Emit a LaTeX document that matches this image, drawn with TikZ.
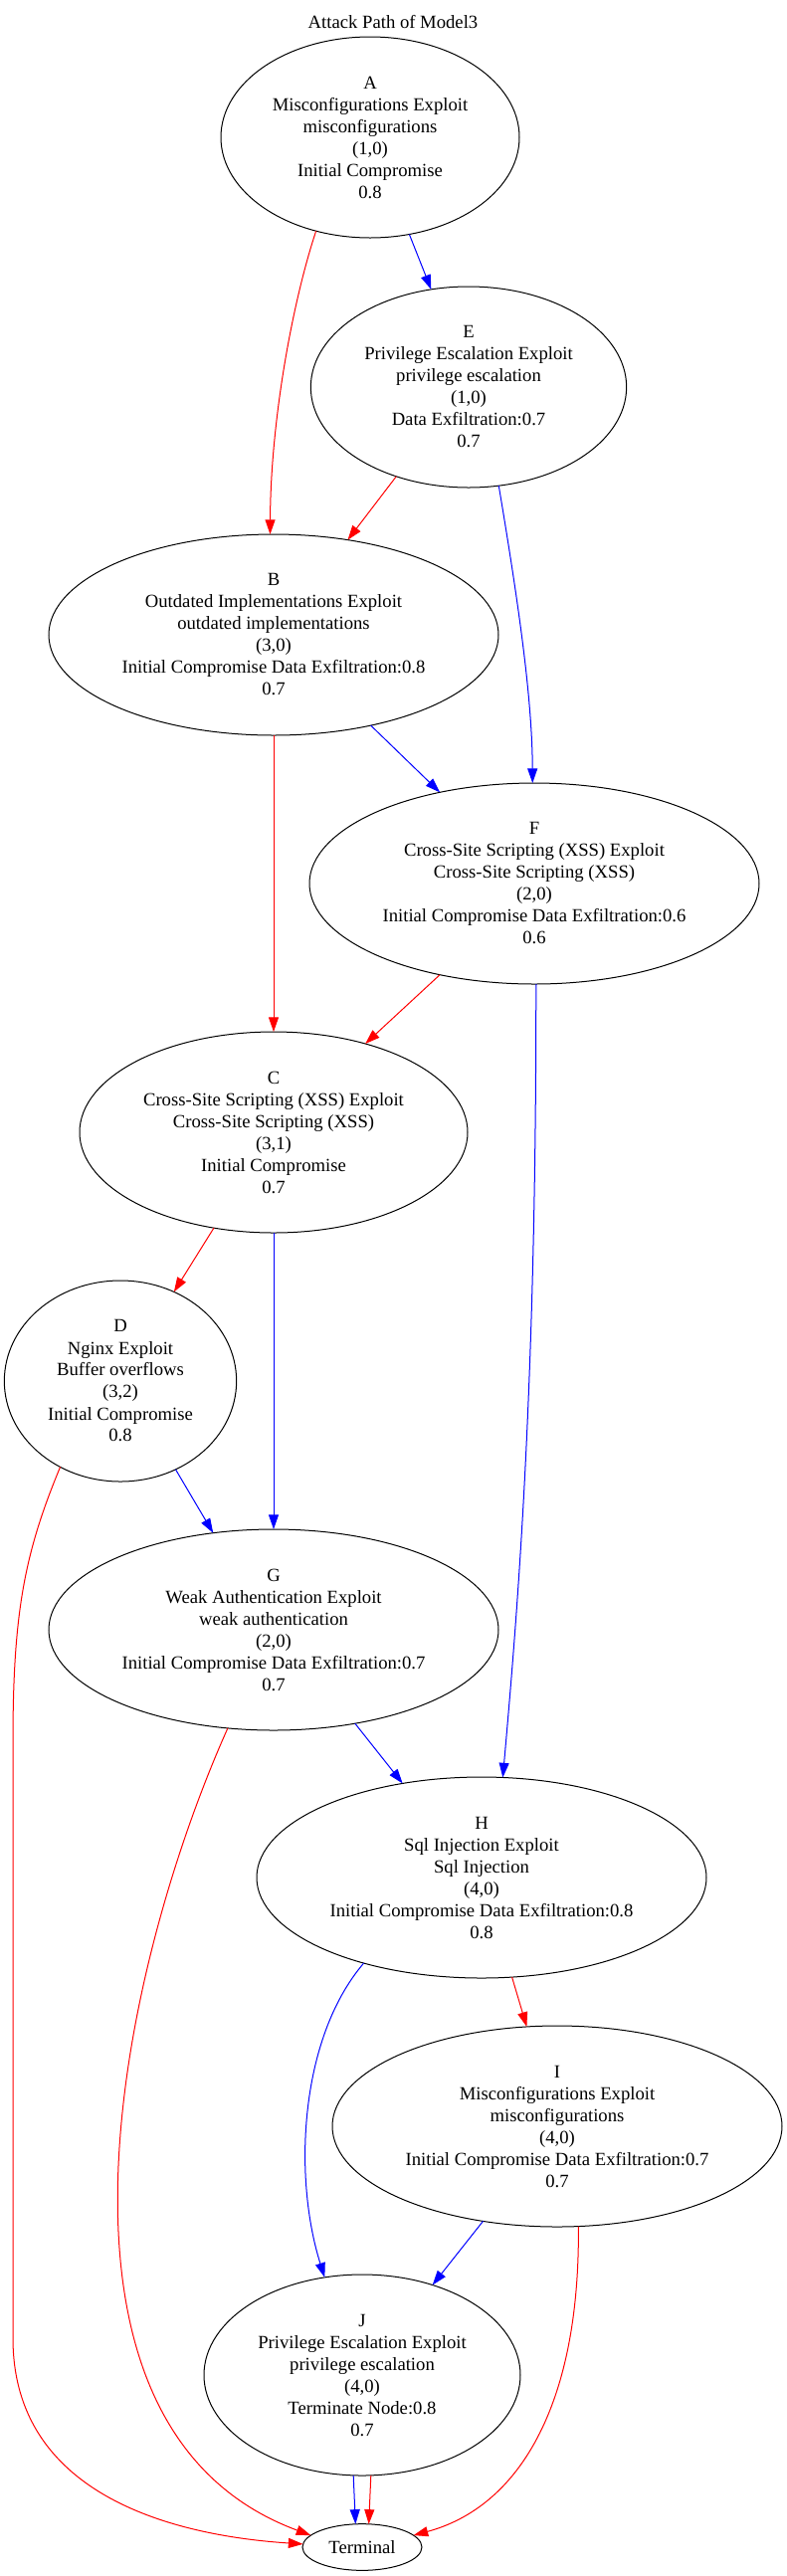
\documentclass[tikz,border=0pt]{standalone}
\usepackage{fontspec}
\setmainfont{Liberation Serif}
\usetikzlibrary{arrows.meta, shapes.geometric}

\tikzset{
  attack/.style={ellipse, draw, line width=0.75pt, inner sep=0pt, outer sep=0pt,
    align=center, minimum height=151.5pt, font=\fontsize{14}{16.5}\selectfont},
  redge/.style={draw=red, line width=0.75pt, -{Triangle[length=11pt,width=7.5pt]}},
  bedge/.style={draw=blue, line width=0.75pt, -{Triangle[length=11pt,width=7.5pt]}}
}

\begin{document}
\begin{tikzpicture}[x=0.75pt, y=-0.75pt]
\useasboundingbox (0,0) rectangle (791,2589);

% Title
\node[font=\fontsize{14}{16.5}\selectfont] (title) at (395,22) {Attack Path of Model3};

% Nodes
\node[attack, minimum width=225pt] (A) at (372,138)
  {A\\Misconfigurations Exploit\\misconfigurations\\(1,0)\\Initial Compromise\\0.8};
\node[attack, minimum width=238pt] (E) at (471,389)
  {E\\Privilege Escalation Exploit\\privilege escalation\\(1,0)\\Data Exfiltration:0.7\\0.7};
\node[attack, minimum width=339pt] (B) at (275,638)
  {B\\Outdated Implementations Exploit\\outdated implementations\\(3,0)\\Initial Compromise Data Exfiltration:0.8\\0.7};
\node[attack, minimum width=339pt] (F) at (537,888)
  {F\\Cross-Site Scripting (XSS) Exploit\\Cross-Site Scripting (XSS)\\(2,0)\\Initial Compromise Data Exfiltration:0.6\\0.6};
\node[attack, minimum width=292.5pt] (C) at (275,1138)
  {C\\Cross-Site Scripting (XSS) Exploit\\Cross-Site Scripting (XSS)\\(3,1)\\Initial Compromise\\0.7};
\node[attack, minimum width=175pt] (D) at (121,1388)
  {D\\Nginx Exploit\\Buffer overflows\\(3,2)\\Initial Compromise\\0.8};
\node[attack, minimum width=339pt] (G) at (275,1638)
  {G\\Weak Authentication Exploit\\weak authentication\\(2,0)\\Initial Compromise Data Exfiltration:0.7\\0.7};
\node[attack, minimum width=339pt] (H) at (484,1887)
  {H\\Sql Injection Exploit\\Sql Injection\\(4,0)\\Initial Compromise Data Exfiltration:0.8\\0.8};
\node[attack, minimum width=339pt] (I) at (560,2137)
  {I\\Misconfigurations Exploit\\misconfigurations\\(4,0)\\Initial Compromise Data Exfiltration:0.7\\0.7};
\node[attack, minimum width=238.5pt] (J) at (364,2387)
  {J\\Privilege Escalation Exploit\\privilege escalation\\(4,0)\\Terminate Node:0.8\\0.7};
\node[attack, minimum width=90pt, minimum height=35pt] (T) at (364,2560) {Terminal};

% Edges
\draw[redge] (A.240) .. controls (295,300) and (272,420) .. (B.92);
\draw[bedge] (A.292) -- (E.111);
\draw[redge] (E.231) -- (B.52);
\draw[bedge] (E.287) .. controls (520,600) and (535,700) .. (F.91);
\draw[bedge] (B.-43) -- (F.136);
\draw[redge] (B.-90) -- (C.90);
\draw[redge] (F.224) -- (C.44);
\draw[bedge] (F.271) .. controls (539,1400) and (520,1620) .. (H.78);
\draw[redge] (C.238) -- (D.59);
\draw[bedge] (C.-90) -- (G.90);
\draw[bedge] (D.-58) -- (G.122);
\draw[redge] (D.235) .. controls (25,1560) and (13,1620) .. (13,1750)
  -- (13,2350) .. controls (13,2520) and (200,2550) .. (T.177);
\draw[redge] (G.245) .. controls (120,1980) and (20,2440) .. (T.167);
\draw[bedge] (G.-49) -- (H.130);
\draw[bedge] (H.216) .. controls (300,2050) and (295,2190) .. (J.111);
\draw[redge] (H.-73) -- (I.107);
\draw[bedge] (I.232) -- (J.52);
\draw[redge] (I.282) .. controls (583,2420) and (520,2520) .. (T.13);
\draw[bedge] (J.265) -- (T.106);
\draw[redge] (J.275) -- (T.74);
\end{tikzpicture}
\end{document}
